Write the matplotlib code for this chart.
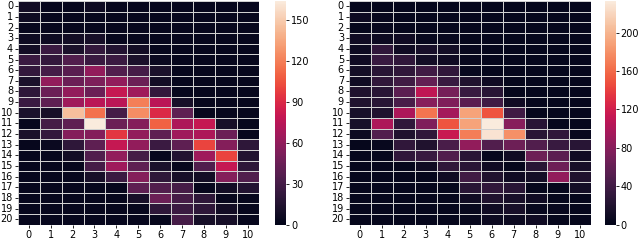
import numpy as np
import matplotlib
matplotlib.use("Agg")
import matplotlib.pyplot as plt
import seaborn as sns

# cell values (21 rows x 11 columns)
left_values = [
    [8, 3, 3, 6, 3, 3, 3, 3, 3, 3, 3],
    [6, 3, 3, 3, 3, 3, 3, 3, 3, 3, 3],
    [3, 3, 3, 3, 3, 3, 3, 3, 3, 3, 3],
    [6, 6, 8, 10, 3, 3, 3, 3, 3, 3, 3],
    [8, 25, 12, 22, 15, 8, 3, 3, 3, 3, 3],
    [25, 22, 35, 25, 25, 12, 5, 3, 3, 3, 3],
    [22, 30, 38, 60, 35, 30, 12, 3, 3, 3, 3],
    [12, 60, 45, 52, 60, 45, 8, 3, 3, 3, 3],
    [20, 45, 60, 45, 80, 65, 22, 3, 3, 3, 3],
    [25, 40, 65, 75, 75, 120, 75, 10, 3, 3, 3],
    [12, 10, 145, 115, 30, 125, 90, 40, 3, 3, 3],
    [3, 30, 40, 164, 45, 55, 110, 70, 80, 10, 3],
    [12, 22, 55, 55, 95, 60, 40, 65, 70, 45, 3],
    [3, 5, 20, 40, 80, 60, 25, 40, 100, 55, 20],
    [3, 3, 8, 35, 60, 30, 3, 15, 65, 100, 15],
    [3, 3, 3, 30, 65, 40, 12, 3, 35, 80, 20],
    [3, 3, 3, 10, 25, 55, 20, 10, 8, 55, 35],
    [3, 3, 3, 3, 3, 40, 35, 30, 3, 8, 15],
    [3, 3, 3, 3, 3, 10, 45, 30, 20, 3, 3],
    [3, 3, 3, 3, 3, 3, 20, 25, 20, 8, 3],
    [3, 3, 3, 3, 3, 3, 3, 30, 10, 10, 3],
]

right_values = [
    [3, 3, 3, 3, 3, 3, 3, 3, 3, 3, 3],
    [8, 5, 3, 3, 3, 3, 3, 3, 3, 3, 3],
    [3, 5, 3, 3, 3, 3, 3, 3, 3, 3, 3],
    [10, 8, 10, 5, 5, 3, 3, 3, 3, 3, 3],
    [8, 30, 10, 15, 12, 5, 3, 3, 3, 3, 3],
    [10, 35, 30, 12, 10, 5, 3, 3, 3, 3, 3],
    [12, 25, 30, 40, 30, 5, 3, 3, 3, 3, 3],
    [10, 30, 40, 60, 35, 20, 10, 3, 3, 3, 3],
    [20, 25, 55, 110, 70, 35, 25, 3, 3, 3, 3],
    [20, 25, 45, 80, 75, 55, 40, 10, 3, 3, 3],
    [15, 20, 100, 165, 95, 190, 150, 40, 3, 3, 3],
    [15, 100, 30, 75, 150, 190, 233, 80, 25, 3, 3],
    [8, 50, 20, 30, 115, 170, 228, 180, 25, 30, 5],
    [3, 5, 30, 20, 45, 85, 50, 65, 50, 35, 25],
    [3, 3, 30, 35, 50, 25, 3, 10, 65, 55, 10],
    [3, 3, 3, 10, 30, 25, 10, 3, 25, 65, 15],
    [3, 3, 3, 3, 10, 40, 20, 10, 12, 85, 20],
    [3, 3, 3, 3, 3, 25, 30, 25, 3, 3, 12],
    [3, 3, 3, 3, 3, 10, 20, 15, 10, 3, 3],
    [3, 3, 3, 3, 3, 5, 10, 15, 5, 5, 3],
    [3, 3, 3, 3, 3, 5, 8, 8, 10, 3, 3],
]

left_ticks = [0, 30, 60, 90, 120, 150]
right_ticks = [0, 40, 80, 120, 160, 200]

fig = plt.figure(figsize=(6.4, 2.4), dpi=100)

panels = [
    (left_values, left_ticks, [0.028, 0.064, 0.376, 0.932], [0.430, 0.064, 0.017, 0.932]),
    (right_values, right_ticks, [0.545, 0.064, 0.378, 0.932], [0.946, 0.064, 0.016, 0.932]),
]

for values, cticks, hm_box, cb_box in panels:
    ax = fig.add_axes(hm_box)
    cax = fig.add_axes(cb_box)
    sns.heatmap(np.array(values), ax=ax, cbar_ax=cax, cmap="rocket", vmin=0,
                linewidths=0.6, linecolor="#d0d0d0",
                xticklabels=1, yticklabels=1,
                cbar_kws={"ticks": cticks})
    ax.tick_params(labelsize=7, length=2.5, width=0.6, pad=1)
    ax.set_yticklabels(ax.get_yticklabels(), rotation=0)
    cax.tick_params(labelsize=7, length=2.5, width=0.6, pad=1)

fig.savefig("out.png", dpi=100)
